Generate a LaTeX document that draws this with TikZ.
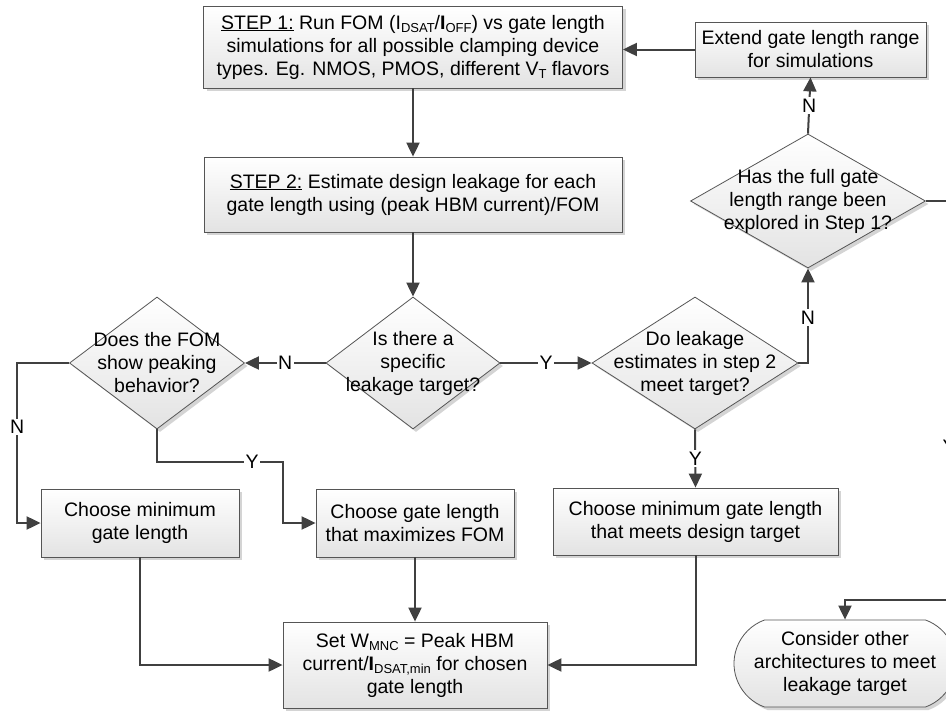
\documentclass[tikz,border=0pt]{standalone}
\usepackage{fontspec}
\setmainfont{Liberation Sans}
\usetikzlibrary{arrows.meta,shapes.geometric,shapes.misc,shadows,calc}

\definecolor{linegray}{HTML}{404040}
\definecolor{edgegray}{HTML}{555555}

% smaller, lowered text for subscripts such as I_DSAT
\newcommand\lowsub[1]{\raisebox{-0.3ex}{\fontsize{13}{13}\selectfont #1}}

\begin{document}
\begin{tikzpicture}[x=1pt,y=-1pt,
  font=\fontsize{19.5}{23}\selectfont,
  boxbase/.style={draw=edgegray, line width=0.8pt, top color=white, bottom color=black!11,
    drop shadow={shadow xshift=3pt, shadow yshift=-3pt, fill=black!17, opacity=1}},
  procbox/.style={boxbase, rectangle, inner sep=0pt, align=center},
  decision/.style={boxbase, diamond, inner sep=0pt},
  terminal/.style={boxbase, rounded rectangle, rounded rectangle arc length=140, inner sep=0pt},
  qtext/.style={align=center, inner sep=0pt},
  flow/.style={draw=linegray, line width=2pt, -{Triangle[length=14pt,width=13pt]}},
  answer/.style={fill=white, inner sep=1.5pt, text=black},
]
\useasboundingbox (0,0) rectangle (946,712);
\clip (0,0) rectangle (946,712);
\fill[white] (0,0) rectangle (946,712);

% process boxes
\node[procbox, minimum width=419pt, minimum height=82pt] (s1) at (413,47)
  {\underline{STEP 1:} Run FOM (I\lowsub{DSAT}/\textbf{I}\lowsub{OFF}) vs gate length\\
   simulations for all possible clamping device\\
   types. Eg. NMOS, PMOS, different V\lowsub{T} flavors};
\node[procbox, minimum width=418pt, minimum height=75pt] (s2) at (413,194.5)
  {\underline{STEP 2:} Estimate design leakage for each\\
   gate length using (peak HBM current)/FOM};
\node[procbox, minimum width=231pt, minimum height=55pt] (ext) at (810.5,49.5)
  {Extend gate length range\\ for simulations};

% decisions
\node[decision, minimum width=175pt, minimum height=132pt] (q1) at (157,363) {};
\node[qtext] (q1t) at (q1.center) {Does the FOM\\ show peaking\\ behavior?};
\node[decision, minimum width=174pt, minimum height=132pt] (q2) at (413,363) {};
\node[qtext] (q2t) at (q2.center) {Is there a\\ specific\\ leakage target?};
\node[decision, minimum width=206pt, minimum height=132pt] (q3) at (695,363) {};
\node[qtext] (q3t) at (q3.center) {Do leakage\\ estimates in step 2\\ meet target?};
\node[decision, minimum width=235pt, minimum height=134pt] (q4) at (808,201) {};
\node[qtext] (q4t) at (q4.center) {Has the full gate\\ length range been\\ explored in Step 1?};

% outcomes
\node[procbox, minimum width=198pt, minimum height=68pt] (cmin) at (140,523)
  {Choose minimum\\ gate length};
\node[procbox, minimum width=198pt, minimum height=68pt] (cgate) at (415,523)
  {Choose gate length\\ that maximizes FOM};
\node[procbox, minimum width=285pt, minimum height=67pt] (ctgt) at (695.5,521.5)
  {Choose minimum gate length\\ that meets design target};
\node[procbox, minimum width=264pt, minimum height=86pt] (setw) at (415,665)
  {Set W\lowsub{MNC} = Peak HBM\\ current/\textbf{I}\lowsub{DSAT,min} for chosen\\ gate length};
\node[terminal, minimum width=222pt, minimum height=87pt] (term) at (845,663.5) {};
\node[qtext] (termt) at (term.center) {Consider other\\ architectures to meet\\ leakage target};

% bend points
\coordinate (jy) at (283,462);
\coordinate (rt) at (949,201);
\coordinate (rb) at (949,600);

% connectors
\draw[flow] (s1) -- (s2);
\draw[flow] (s2) -- (q2);
\draw[flow] (q2.west) -- node[answer]{N} (q1.east);
\draw[flow] (q2.east) -- node[answer]{Y} (q3.west);
\draw[flow] (q3.east) -| node[answer, pos=0.74]{N} (q4.south);
\draw[flow] (q4.north) -- node[answer]{N} (ext.south);
\draw[flow] (ext.west) -- (ext.west -| s1.east);
\draw[flow] (q1.west) -- ++(-52,0) |- node[answer, pos=0.2]{N} (cmin.west);
\draw[flow] (q1.south) |- node[answer, pos=0.877]{Y} (jy) |- (cgate.west);
\draw[flow] (q3.south) -- node[answer]{Y} (ctgt.north);
\draw[flow] (cgate) -- (setw);
\draw[flow] (cmin.south) |- (setw.west);
\draw[flow] (ctgt.south) |- (setw.east);
\draw[flow] (q4.east) -- (rt) -- node[answer, pos=0.617]{Y} (rb) -| (term.north);
\end{tikzpicture}
\end{document}
